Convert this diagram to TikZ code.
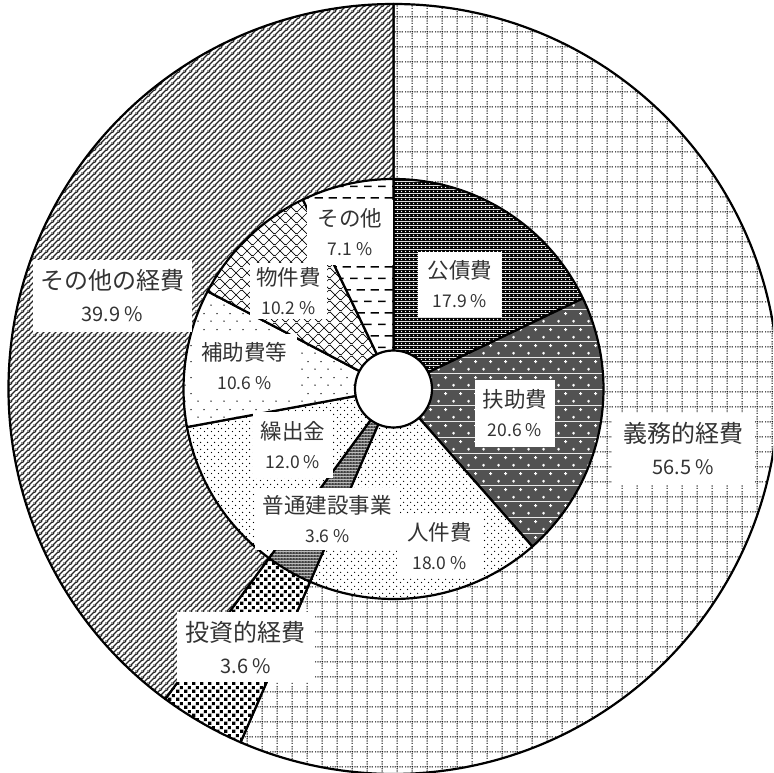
\documentclass[tikz,border=0pt]{standalone}
\usepackage{fontspec}
\setmainfont{Noto Sans CJK JP}
\usetikzlibrary{patterns.meta}

% outer ring
\tikzdeclarepattern{name=gimupat, type=colored,
  bottom left={(0pt,0pt)}, top right={(15pt,15pt)}, tile size={(15pt,15pt)},
  code={\tikzset{x=1pt,y=1pt}
    \draw[black, line width=1pt, dash pattern=on 1.25pt off 1.25pt] (0,7.5) -- (15,7.5) (7.5,0) -- (7.5,15);}}
\tikzdeclarepattern{name=sonotakeihipat, type=colored,
  bottom left={(0pt,0pt)}, top right={(6pt,6pt)}, tile size={(6pt,6pt)},
  code={\tikzset{x=1pt,y=1pt}
    \draw[black!85, line width=1.5pt] (-1,-1) -- (7,7) (-1,5) -- (1,7) (5,-1) -- (7,1);}}
\tikzdeclarepattern{name=toshipat, type=colored,
  bottom left={(0pt,0pt)}, top right={(8pt,8pt)}, tile size={(8pt,8pt)},
  code={\tikzset{x=1pt,y=1pt}
    \fill[black] (0.25,0.25) rectangle (3.75,3.75) (4.25,4.25) rectangle (7.75,7.75);}}
% inner ring
\tikzdeclarepattern{name=kosaipat, type=colored,
  bottom left={(0pt,0pt)}, top right={(4pt,4pt)}, tile size={(4pt,4pt)},
  code={\tikzset{x=1pt,y=1pt}
    \fill[black] (0,0) rectangle (4,4);
    \fill[white] (2,2) circle[radius=0.9];}}
\tikzdeclarepattern{name=fujopat, type=colored,
  bottom left={(0pt,0pt)}, top right={(15pt,16pt)}, tile size={(15pt,16pt)},
  code={\tikzset{x=1pt,y=1pt}
    \fill[black!68] (0,0) rectangle (15,16);
    \draw[white, line width=1pt] (2.25,4) -- (5.25,4) (3.75,2.5) -- (3.75,5.5)
      (9.75,12) -- (12.75,12) (11.25,10.5) -- (11.25,13.5);}}
\tikzdeclarepattern{name=jinkenpat, type=colored,
  bottom left={(0pt,0pt)}, top right={(7pt,7pt)}, tile size={(7pt,7pt)},
  code={\tikzset{x=1pt,y=1pt}
    \fill[black] (1.75,1.75) circle[radius=0.8] (5.25,5.25) circle[radius=0.8];}}
\tikzdeclarepattern{name=futsupat, type=colored,
  bottom left={(0pt,0pt)}, top right={(3pt,3pt)}, tile size={(3pt,3pt)},
  code={\tikzset{x=1pt,y=1pt}
    \fill[black!75] (0,0) rectangle (3,3);
    \fill[white] (1.5,1.5) circle[radius=0.7];}}
\tikzdeclarepattern{name=kuripat, type=colored,
  bottom left={(0pt,0pt)}, top right={(6.5pt,6.5pt)}, tile size={(6.5pt,6.5pt)},
  code={\tikzset{x=1pt,y=1pt}
    \fill[black] (1.6,1.6) circle[radius=0.75] (4.9,4.9) circle[radius=0.75];}}
\tikzdeclarepattern{name=hojopat, type=colored,
  bottom left={(0pt,0pt)}, top right={(13pt,16pt)}, tile size={(13pt,16pt)},
  code={\tikzset{x=1pt,y=1pt}
    \fill[black] (3.25,4) circle[radius=0.8] (9.75,12) circle[radius=0.8];}}
\tikzdeclarepattern{name=bukkenpat, type=colored,
  bottom left={(0pt,0pt)}, top right={(11pt,11pt)}, tile size={(11pt,11pt)},
  code={\tikzset{x=1pt,y=1pt}
    \draw[black, line width=0.7pt] (-1,-1) -- (12,12) (-1,12) -- (12,-1);}}
\tikzdeclarepattern{name=sonotapat, type=colored,
  bottom left={(0pt,0pt)}, top right={(14pt,23.4pt)}, tile size={(14pt,23.4pt)},
  code={\tikzset{x=1pt,y=1pt}
    \draw[black, line width=1.5pt] (0,5.85) -- (8,5.85) (7,17.55) -- (14,17.55) (0,17.55) -- (1,17.55);}}

\tikzset{
  wedge/.style={draw=black, line width=2.2pt, line join=round, preaction={fill=white}},
  lbl/.style={fill=white, inner sep=0pt, align=center, text=black!80,
    font=\fontsize{21.5}{29}\selectfont},
  biglbl/.style={lbl, font=\fontsize{24}{32}\selectfont},
}
\newcommand{\pct}[1]{{\fontsize{17.5}{29}\selectfont #1~\%}}
\newcommand{\bigpct}[1]{{\fontsize{20}{32}\selectfont #1~\%}}

\begin{document}
\begin{tikzpicture}[x=1pt, y=1pt]
\useasboundingbox (-393.5,-384) rectangle (379.5,389);
\clip (-393.5,-384) rectangle (379.5,389);

% outer ring: 56.5 / 3.6 / 39.9
\foreach \a/\b/\p in {90/-113.4/gimupat, -113.4/-126.36/toshipat, -126.36/-270/sonotakeihipat}
  \draw[wedge, pattern=\p] (0,0) -- (\a:385) arc[start angle=\a, end angle=\b, radius=385] -- cycle;

% inner ring
\foreach \a/\b/\p in {90/25.56/kosaipat, 25.56/-48.6/fujopat, -48.6/-113.4/jinkenpat,
    -113.4/-126.36/futsupat, -126.36/-169.56/kuripat, -169.56/-207.72/hojopat,
    -207.72/-244.44/bukkenpat, -244.44/-270/sonotapat}
  \draw[wedge, pattern=\p] (0,0) -- (\a:210) arc[start angle=\a, end angle=\b, radius=210] -- cycle;

\node[draw, circle, fill=white, line width=2.2pt, minimum size=77pt, inner sep=0pt] (hub) at (0,0) {};

% labels
\node[biglbl, minimum width=159pt, minimum height=72pt] (sonotakeihi) at (-281,93) {その他の経費\\\bigpct{39.9}};
\node[biglbl, minimum width=143pt, minimum height=72pt] (gimu) at (290,-60) {義務的経費\\\bigpct{56.5}};
\node[biglbl, minimum width=138pt, minimum height=70pt] (toshi) at (-147.5,-258) {投資的経費\\\bigpct{3.6}};

\node[lbl, minimum width=86pt, minimum height=65pt] (sonota) at (-43.5,156.5) {その他\\\pct{7.1}};
\node[lbl, minimum width=84pt, minimum height=65pt] (kosai) at (66.5,104.5) {公債費\\\pct{17.9}};
\node[lbl, minimum width=80pt, minimum height=67pt] (fujo) at (121.5,-24.5) {扶助費\\\pct{20.6}};
\node[lbl, minimum width=145pt, minimum height=62pt] (futsu) at (-66,-130) {普通建設事業\\\pct{3.6}};
\node[lbl, minimum width=85pt, minimum height=62pt] (jinken) at (46,-157) {人件費\\\pct{18.0}};
\node[lbl, minimum width=80pt, minimum height=66pt] (kuri) at (-100.5,-56) {繰出金\\\pct{12.0}};
\node[lbl, minimum width=105pt, minimum height=64pt] (hojo) at (-149,23) {補助費等\\\pct{10.6}};
\node[lbl, minimum width=77pt, minimum height=56pt] (bukken) at (-105,98) {物件費\\\pct{10.2}};
\end{tikzpicture}
\end{document}
